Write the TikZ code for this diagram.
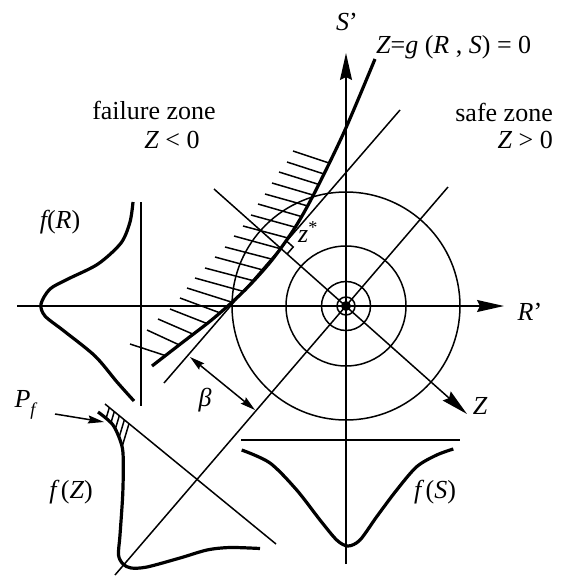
\documentclass[tikz,border=0pt]{standalone}
\usepackage{fontspec}
\setmainfont{Liberation Serif}
\usetikzlibrary{arrows.meta,calc}
\begin{document}
\begin{tikzpicture}[x=1pt,y=-1pt,
  thinln/.style={line width=1.5pt},
  boldln/.style={line width=3.2pt},
  bigarrow/.style={-{Stealth[length=27pt,width=12pt,inset=3pt]}},
  dblarrow/.style={{Stealth[length=15pt,width=8pt,inset=2pt]}-{Stealth[length=15pt,width=8pt,inset=2pt]}},
  smallarrow/.style={-{Stealth[length=16pt,width=8pt,inset=2pt]}},
  lbl/.style={font=\fontsize{26}{30}\selectfont, inner sep=0pt},
]
\useasboundingbox (0,0) rectangle (574,576);

% key points
\coordinate (c) at (346,306);
\coordinate (rl) at (17,306);
\coordinate (rr) at (504,306);
\coordinate (sb) at (346,564);
\coordinate (st) at (346,53);
\coordinate (zs) at (214,189);
\coordinate (ze) at (467,414);
\coordinate (ds) at (115,575);
\coordinate (de) at (448,187);
\coordinate (ts) at (164,383);
\coordinate (te) at (400,110);
\coordinate (ra1) at (286.5,241.0);
\coordinate (ra2) at (293.2,247.0);
\coordinate (ra3) at (287.3,253.8);
\coordinate (b1) at (190,357);
\coordinate (b2) at (255,410);
\coordinate (pf1) at (55,414);
\coordinate (pf2) at (104,422);
\coordinate (frb1) at (141,202);
\coordinate (frb2) at (141,406);
\coordinate (fzb1) at (105,404);
\coordinate (fzb2) at (276,544);
\coordinate (fsb1) at (241,440);
\coordinate (fsb2) at (460,440);

% circles
\draw[thinln] (c) circle[radius=114pt];
\draw[thinln] (c) circle[radius=60pt];
\draw[thinln] (c) circle[radius=24.5pt];
\draw[thinln] (c) circle[radius=9pt];
\fill (c) circle[radius=5pt];

% axes and lines
\draw[thinln, bigarrow] (rl) -- (rr);
\draw[thinln, bigarrow] (sb) -- (st);
\draw[thinln, bigarrow] (zs) -- (ze);
\draw[thinln] (ds) -- (de);
\draw[thinln] (ts) -- (te);
\draw[thinln] (ra1) -- (ra2) -- (ra3);
\draw[thinln, dblarrow] (b1) -- (b2);

% hatching of failure side
\begin{scope}
\clip plot[smooth] coordinates {(375,59) (345,130) (316,190) (296,226) (272,260) (245,290) (214,318) (183,342) (152,366)} -- (0,366) -- (0,0) -- (375,0) -- cycle;
\foreach \lx/\ly/\rx/\ry in {293/151/329/163, 287/162/324/174, 279/172/318.7/184.4, 272/183/313.2/195.1, 265/194/307.2/205.8, 258/204/301.3/216.5, 251/215/295.2/227.2, 243/226/287.6/237.9, 234/236/280/248.6, 225/247/272.5/259.3, 215/257/263/270, 205/268/253.4/280.7, 195/278/243.4/291.4, 187/288/231.6/302.1, 180/298/219.8/312.8, 170/309/206.9/323.5, 158/319/193.1/334.2, 147/330/179.2/344.9, 130/344/165.4/355.6}
  \draw[thinln] (\lx,\ly) -- ($(\lx,\ly)!1.3!(\rx,\ry)$);
\end{scope}

% limit state curve
\draw[boldln] plot[smooth] coordinates {(375,59) (345,130) (316,190) (296,226) (272,260) (245,290) (214,318) (183,342) (152,366)};

% f(R)
\draw[thinln] (frb1) -- (frb2);
\draw[boldln] plot[smooth] coordinates {(133,202) (130,222) (121,243) (98,264) (68,279) (50,289) (41,304) (45,316) (64,331) (95,356) (117,382) (134,401)};

% f(Z)
\draw[thinln] (fzb1) -- (fzb2);
\begin{scope}
\clip plot[smooth] coordinates {(98,412) (113,425) (121.7,445) (123.3,462)} -- (300,462) -- (300,380) -- (90,380) -- cycle;
\foreach \t in {5.6,12,18.5,25,31}
  \draw[thinln] ($(fzb1)+(\t*0.774,\t*0.634)$) -- ++(-9,30);
\end{scope}
\draw[boldln] plot[smooth] coordinates {(98,412) (113,425) (121.7,445) (123.3,462) (122.7,495) (120,535) (118.5,555) (123,564) (131,568) (147,567) (180,558) (207,550) (230,547.5) (260,548.5)};
\draw[thinln, smallarrow] (pf1) -- (pf2);

% f(S)
\draw[thinln] (fsb1) -- (fsb2);
\draw[boldln] plot[smooth] coordinates {(241.7,450) (270,463) (296.7,490) (320,520) (336.7,540) (348,546) (360,540) (376.7,516.7) (396.7,490) (416.7,466.7) (436.7,455) (453.3,449)};

% labels
\node[lbl] (sp) at (347,22) {{\itshape S}’};
\node[lbl, anchor=west] (geq) at (376,47) {{\itshape Z}={\itshape g} ({\itshape R} , {\itshape S}) = 0};
\node[lbl] (fzone) at (154,110) {failure zone};
\node[lbl] (zlt) at (172,140) {{\itshape Z} < 0};
\node[lbl, anchor=east] (szone) at (553,112) {safe zone};
\node[lbl, anchor=east] (zgt) at (553,140) {{\itshape Z} > 0};
\node[lbl] (fr) at (60,222) {{\itshape f}({\itshape R})};
\node[lbl] (zsl) at (308,232) {{\itshape z}\textsuperscript{*}};
\node[lbl] (rp) at (530,312) {{\itshape R}’};
\node[lbl] (zl) at (480,406) {\itshape Z};
\node[lbl] (bl) at (205,400) {\itshape β};
\node[lbl] (pf) at (25,405) {{\itshape P}\raisebox{-0.3em}{\fontsize{18}{20}\selectfont\itshape f}};
\node[lbl] (fzl) at (71,492) {{\itshape f}\,({\itshape Z})};
\node[lbl] (fsl) at (435,492) {{\itshape f}\,({\itshape S})};
\end{tikzpicture}
\end{document}
